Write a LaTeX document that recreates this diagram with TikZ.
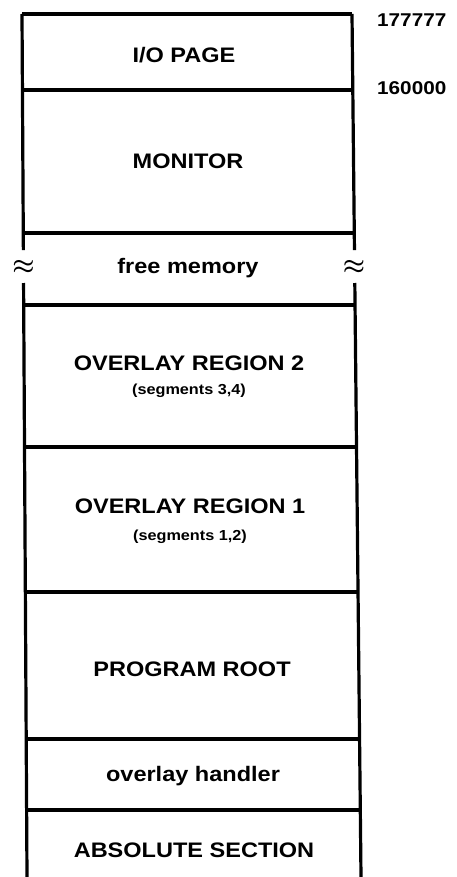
\documentclass[tikz,border=0pt]{standalone}
\usepackage{fontspec}
\setmainfont{Liberation Sans}[FakeStretch=1.12, UprightFont=* Bold]
\usetikzlibrary{calc}
\begin{document}
\begin{tikzpicture}[x=1pt,y=-1pt,
    wall/.style={line width=3.2pt},
    sep/.style={line width=3.2pt},
    big/.style={font=\fontsize{21}{24}\selectfont, inner sep=0pt},
    small/.style={font=\fontsize{14.5}{17}\selectfont, inner sep=0pt},
    addr/.style={font=\fontsize{18.5}{21}\selectfont, inner sep=0pt, anchor=west},
    brk/.style={font=\fontsize{36}{36}\selectfont\boldmath, inner sep=0pt}]
  \useasboundingbox (0,0) rectangle (457,877);

  % corner points of the (slightly tapering) memory column
  \coordinate (tl) at (22,14);
  \coordinate (bl) at (27,877);
  \coordinate (tr) at (352,14);
  \coordinate (br) at (361,877);

  % side walls, broken around the free-memory gap
  \draw[wall] (tl) -- ($(tl)!0.2735!(bl)$);
  \draw[wall] ($(tl)!0.3117!(bl)$) -- (bl);
  \draw[wall] (tr) -- ($(tr)!0.2735!(br)$);
  \draw[wall] ($(tr)!0.3117!(br)$) -- (br);

  % partition boundaries (fractions of the column height from the top)
  \draw[sep] (tl) -- (tr);
  \foreach \f in {0.0881, 0.2538, 0.3372, 0.5017, 0.6698, 0.8401, 0.9224}
    \draw[sep] ($(tl)!\f!(bl)$) -- ($(tr)!\f!(br)$);

  % region labels
  \node[big] (io)   at (184,55)  {I/O PAGE};
  \node[big] (mon)  at (188,161) {MONITOR};
  \node[big] (free) at (188,268) {free memory};
  \node[big] (or2)  at (189,363) {OVERLAY REGION 2};
  \node[small] (s34) at (189,391) {(segments 3,4)};
  \node[big] (or1)  at (190,506) {OVERLAY REGION 1};
  \node[small] (s12) at (190,537) {(segments 1,2)};
  \node[big] (root) at (192,669) {PROGRAM ROOT};
  \node[big] (ovh)  at (193,776) {overlay handler};
  \node[big] (abs)  at (194,850) {ABSOLUTE SECTION};

  % break marks on the walls
  \node[brk] (brkl) at (23.5,267) {$\approx$};
  \node[brk] (brkr) at (354,267) {$\approx$};

  % addresses
  \node[addr] (a177) at (377,20.5) {177777};
  \node[addr] (a160) at (377,88)   {160000};
\end{tikzpicture}
\end{document}
